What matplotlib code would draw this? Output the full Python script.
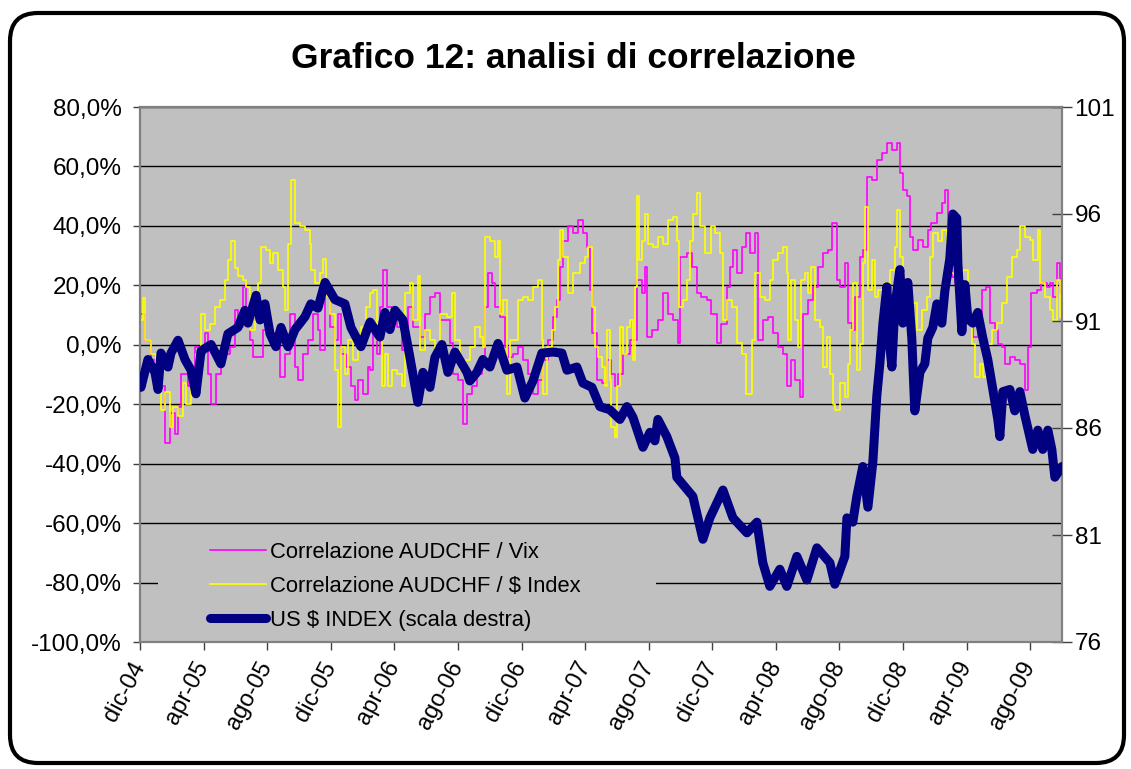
import matplotlib
matplotlib.use("Agg")
import matplotlib.pyplot as plt
from matplotlib.patches import FancyBboxPatch, Rectangle
from matplotlib.transforms import IdentityTransform
from matplotlib.ticker import FixedLocator, FuncFormatter

plt.rcParams['font.family'] = ['Liberation Sans', 'DejaVu Sans']

title = "Grafico 12: analisi di correlazione"
x_labels = ['dic-04', 'apr-05', 'ago-05', 'dic-05', 'apr-06', 'ago-06', 'dic-06', 'apr-07',
            'ago-07', 'dic-07', 'apr-08', 'ago-08', 'dic-08', 'apr-09', 'ago-09']
x_ticks = [0, 4, 8, 12, 16, 20, 24, 28, 32, 36, 40, 44, 48, 52, 56]   # months since 1 Dec 2004
x_end = 58
left_ticks = [-100, -80, -60, -40, -20, 0, 20, 40, 60, 80]
right_ticks = [76, 81, 86, 91, 96, 101]
names = ["Correlazione AUDCHF / Vix", "Correlazione AUDCHF / \\$ Index", "US \\$ INDEX (scala destra)"]

# Correlazione AUDCHF / Vix  (months since Dec 2004, %)
vix_t = [0.0, 0.29, 0.71, 1.13, 1.55, 1.87, 2.18, 2.39, 2.6, 3.02, 3.44, 3.75, 4.07, 4.28, 4.49, 4.8,
         5.12, 5.64, 5.95, 6.16, 6.48, 6.69, 6.9, 7.11, 7.42, 7.74, 8.05, 8.47, 8.78, 9.1, 9.41, 9.73,
         9.94, 10.25, 10.57, 10.88, 11.19, 11.3, 11.61, 11.93, 12.24, 12.45, 12.66, 12.98, 13.29, 13.5,
         13.71, 14.03, 14.34, 14.47, 14.68, 14.89, 15.1, 15.31, 15.52, 15.83, 16.15, 16.46, 16.67, 16.88,
         17.2, 17.61, 17.93, 18.24, 18.56, 18.87, 19.19, 19.5, 19.71, 20.03, 20.34, 20.55, 20.86, 21.18,
         21.49, 21.7, 21.91, 22.12, 22.33, 22.65, 22.96, 23.17, 23.49, 23.8, 24.11, 24.43, 24.74, 25.06,
         25.37, 25.69, 26.0, 26.21, 26.42, 26.63, 26.94, 27.26, 27.57, 27.89, 28.1, 28.31, 28.41, 28.73,
         29.04, 29.35, 29.66, 29.87, 30.08, 30.4, 30.82, 31.24, 31.55, 31.76, 31.87, 32.18, 32.6, 32.91,
         33.23, 33.54, 33.86, 33.96, 34.38, 34.7, 35.01, 35.32, 35.64, 35.95, 36.27, 36.58, 36.9, 37.11,
         37.32, 37.53, 37.84, 38.15, 38.36, 38.68, 38.89, 39.2, 39.52, 39.83, 40.15, 40.46, 40.67, 40.98,
         41.19, 41.51, 41.72, 42.03, 42.35, 42.66, 42.98, 43.29, 43.5, 43.82, 44.03, 44.34, 44.55, 44.76,
         44.97, 45.29, 45.5, 45.71, 46.02, 46.34, 46.65, 46.96, 47.28, 47.59, 47.8, 48.01, 48.22, 48.43,
         48.64, 48.96, 49.27, 49.58, 49.79, 50.11, 50.42, 50.63, 50.84, 51.05, 51.26, 51.47, 51.79, 52.1,
         52.41, 52.73, 52.94, 53.25, 53.46, 53.78, 53.99, 54.2, 54.41, 54.72, 55.04, 55.35, 55.66, 55.87,
         56.08, 56.4, 56.71, 57.03, 57.24, 57.45, 57.66, 57.87, 57.97]
vix_v = [10.5, 1.5, -5, -14, -33, -23, -30, -21, -9.7, -14, -0.7, -3, 3.8, -9.7, -20, -9.7,
         -3, -0.7, 11.7, 6, 19.5, 8.3, 1.5, -4, -4, 5, 3.8, -0.7, -10.8, -3, 10.5, -7.4,
         -12, -3, 1.5, 10.5, 5, -1.8, 16, 6, 1.5, 10.5, -3, -7.4, -14, -18.7,
         -12, -16.4, -7.4, -8.6, 6, -3, 12.8, 25.2, 12.8, 10.5, 6, -1.8, 6, 12.8,
         6, 2.7, 10.5, 16, 17.3, 8.3, 8.3, 0.5, -9.7, -12, -26.5, -16.4, -14, -9.7,
         -5, 12.8, 24, 20.7, 12.8, 9.4, -0.7, -4, -3, -0.7, -5, -9.7, -16.4, -12,
         -5, 1.5, 9.4, 15, 26.3, 35, 39.8, 37.5, 42, 37.5, 33, 18.4, 3.8, -12,
         -13, -5, -9.7, -14, -9.7, -3, 1.5, 21.8, 17.3, 26.3, 2.7, 5, 8.3, 17.3,
         10.5, 8.3, 0.5, 29.6, 30.8, 26.3, 17.3, 16, 15, 10.5, 0.5, 7.1, 19.5, 26.3,
         32, 24, 33, 37.5, 30.8, 37.5, 1.5, 8.3, 9.4, 3.8, -0.7, -3, -14, -5,
         -12, -17.5, 10.5, 15, 19.5, 26.3, 30.8, 32, 41, 21.8, 19.5, 27.4, 7.2, 5,
         16.2, 29.6, 31.9, 56.6, 55.5, 62.2, 64.5, 67.9, 65.6, 67.9, 57.8, 52.1, 49.9, 36.4,
         31.9, 35.3, 33, 38.6, 40.9, 44.3, 47.6, 52.1, 35.3, 22.9, 20.7, 24, 19.5, 9.4,
         2.7, 5, 18.4, 19.5, 7.2, 5, 0.4, -0.7, -6.3, -4, -5.2, -6.3, -15.3, -0.7,
         17.3, 18.4, 20.7, 19.5, 20.7, 16.2, 27.4, 17.3, 16.2]

# Correlazione AUDCHF / $ Index
dxy_t = [0.0, 0.19, 0.29, 0.71, 1.03, 1.34, 1.55, 1.87, 2.08, 2.39, 2.7, 2.91, 3.23, 3.54, 3.86, 4.07,
         4.38, 4.7, 5.01, 5.32, 5.53, 5.74, 5.95, 6.16, 6.48, 6.69, 6.9, 7.21, 7.42, 7.63, 7.95, 8.16,
         8.36, 8.68, 8.99, 9.1, 9.31, 9.52, 9.73, 10.04, 10.36, 10.67, 10.78, 10.99, 11.3, 11.51, 11.72,
         11.93, 12.24, 12.45, 12.66, 12.87, 13.08, 13.4, 13.71, 13.92, 14.23, 14.47, 14.68, 14.89, 15.2,
         15.41, 15.62, 15.83, 16.15, 16.46, 16.67, 16.99, 17.2, 17.51, 17.61, 17.93, 18.24, 18.56, 18.87,
         19.29, 19.61, 19.82, 20.13, 20.45, 20.76, 21.07, 21.39, 21.6, 21.7, 22.02, 22.33, 22.54, 22.65,
         22.86, 23.07, 23.28, 23.59, 23.8, 24.11, 24.43, 24.74, 25.06, 25.27, 25.37, 25.58, 25.9, 26.1,
         26.31, 26.42, 26.63, 26.94, 27.26, 27.68, 27.99, 28.2, 28.41, 28.62, 28.83, 29.04, 29.24, 29.35,
         29.56, 29.66, 29.87, 29.98, 30.19, 30.4, 30.61, 30.82, 31.03, 31.13, 31.24, 31.4, 31.55, 31.76,
         31.97, 32.28, 32.6, 32.91, 33.23, 33.54, 33.75, 33.92, 34.17, 34.38, 34.59, 34.8, 35.01, 35.22,
         35.53, 35.74, 35.95, 36.16, 36.48, 36.69, 36.9, 37.21, 37.53, 37.84, 38.15, 38.47, 38.68, 38.99,
         39.31, 39.62, 39.83, 40.15, 40.46, 40.67, 40.78, 40.98, 41.19, 41.4, 41.61, 41.82, 42.03, 42.24,
         42.45, 42.77, 42.98, 43.19, 43.4, 43.61, 43.71, 44.03, 44.34, 44.55, 44.66, 44.87, 45.08, 45.29,
         45.5, 45.6, 45.81, 46.02, 46.23, 46.44, 46.65, 46.86, 47.17, 47.49, 47.59, 47.8, 48.01, 48.33,
         48.43, 48.64, 48.85, 49.17, 49.48, 49.69, 49.9, 50.21, 50.42, 50.74, 50.95, 51.26, 51.58, 51.79,
         52.1, 52.31, 52.52, 52.83, 53.04, 53.25, 53.57, 53.88, 54.2, 54.51, 54.83, 55.14, 55.35, 55.66,
         55.98, 56.19, 56.5, 56.61, 56.92, 57.24, 57.45, 57.66, 57.87, 58.0]
dxy_v = [8.3, 15.6, 1.5, -3, -9.7, -22, -16, -27.7, -21, -24, -13, -20, -9.7, -3, 10.5, 5,
         7, 12.8, 15, 21.8, 28.5, 35, 26, 23, 21.8, 19.5, 5, 8, 20.7, 33, 32, 27.4,
         30.8, 25, 19.5, 11.7, 34, 55.5, 41, 39.8, 38.6, 34, 25, 20.7, 24, 29, 16,
         10.5, -8.6, -27.7, -0.7, -9.7, 1.5, -5, -0.7, 6, 12.8, 17.3, 18.4, 1.5, -14,
         -3, -14, -8.6, -9.7, -14, 17.3, 20.7, 8.3, 23, -1.8, 5, 1.5, -3, 10.5,
         9.4, 17.3, 1.5, -8.6, -5, -0.7, 6, 2.7, -0.7, 36.4, 35, 29.6, 35, 10.5,
         15, -16.4, 1.5, 1.5, 15, 16, 15, 19.5, 21.8, 1.5, -16.4, -0.7, 5, 12.8,
         28.5, 38.6, 29.6, 17.3, 24, 27.4, 29.6, 33, 12.8, -0.7, -4, -7.4, -14, 5,
         -12, -27.7, -31, -14, 6, -3, 6, 8.3, -5, 19.5, 49.9, 28.5, 35, 44,
         34, 33, 36.4, 34, 42, 43, 35, 12.8, 15, 21.8, 35, 44, 51, 39.8,
         30.8, 30.8, 39.8, 37.5, 30.8, 8.3, 15, 12.8, 0.5, -3, -16.4, 1.5, 24, 16,
         15, 21.8, 28.5, 30.8, 33, 24, 1.5, 21.8, 8.3, -0.7, 21.8, 24, 17.3, 26.3,
         8.3, 6, -7.4, 2.7, -9.7, -20, -22, -13, -17.6, -6.3, 5, 20.7, -8.6, 0.4,
         27.4, 46.5, 18.4, 28.5, 16.2, 18.4, 15, 20.7, 25.2, 33, 45.4, 29.6, 18.4, 0.4,
         5, 14, 5, 11.7, 16.2, 29.6, 37.5, 35, 38.6, 31.9, 24, 25.2, 21.8, 25.2,
         9.4, 0.4, -10.8, -6.3, -10.8, 0.4, 5, 7.2, 14, 22.9, 29.6, 31.9, 39.8, 36.4,
         35.3, 28.5, 38.6, 20.7, 16.2, 11.7, 8.3, 21.8, 9.4, 12]

# US $ INDEX (right scale)
usd_t = [0.0, 0.06, 0.5, 0.94, 1.13, 1.32, 1.76, 1.95, 2.39, 2.83, 3.21, 3.52, 3.84, 4.47, 5.09, 5.53,
         6.16, 6.6, 6.79, 7.3, 7.55, 7.86, 8.18, 8.55, 8.87, 9.31, 9.75, 10.38, 10.75, 11.19, 11.64,
         12.26, 12.89, 13.27, 13.9, 14.34, 14.47, 15.09, 15.41, 15.72, 16.04, 16.54, 16.98, 17.48, 17.8,
         18.24, 18.55, 18.99, 19.37, 19.81, 20.57, 20.75, 21.19, 21.57, 22.01, 22.52, 23.08, 23.71, 24.21,
         24.72, 25.28, 25.97, 26.54, 26.86, 27.48, 27.86, 28.43, 28.93, 29.56, 30.19, 30.63, 31.01, 31.64,
         32.08, 32.39, 32.58, 33.14, 33.65, 33.77, 34.78, 35.41, 35.85, 36.67, 37.3, 38.18, 38.81, 39.18,
         39.62, 40.25, 40.69, 41.32, 41.95, 42.58, 43.4, 43.71, 44.34, 44.47, 44.84, 45.09, 45.47, 45.79,
         46.1, 46.35, 46.54, 46.73, 46.98, 47.17, 47.3, 47.48, 47.8, 47.99, 48.3, 48.55, 48.74, 49.06,
         49.37, 49.56, 49.87, 50.13, 50.44, 50.63, 50.94, 51.13, 51.38, 51.45, 51.7, 51.89, 52.08, 52.39,
         52.7, 53.02, 53.33, 53.65, 53.96, 54.09, 54.28, 54.72, 55.03, 55.35, 55.66, 55.97, 56.16, 56.48,
         56.79, 57.11, 57.36, 57.55, 58.0]
usd_v = [88.3, 87.9, 89.2, 88.6, 87.8, 89.5, 88.85, 89.5, 90.1, 89.2, 88.7, 87.6, 89.6, 89.9, 89.0, 90.4,
         90.7, 91.5, 90.9, 92.2, 91.05, 91.8, 90.4, 89.8, 90.7, 89.8, 90.6, 91.2, 91.8, 91.6, 92.8,
         92.0, 91.8, 90.7, 89.8, 90.7, 90.95, 90.25, 91.4, 90.6, 91.5, 91.05, 89.3, 87.2, 88.6,
         87.9, 89.3, 89.9, 88.6, 89.55, 88.6, 88.2, 88.6, 89.2, 88.85, 89.95, 88.7, 88.85, 87.4,
         88.2, 89.5, 89.55, 89.5, 88.7, 88.85, 88.1, 87.9, 87.0, 86.85, 86.4, 87.0, 86.5, 85.1,
         85.8, 85.4, 86.4, 85.6, 84.6, 83.7, 82.8, 80.8, 81.8, 83.1, 81.8, 81.1, 81.6, 79.7,
         78.6, 79.4, 78.6, 80.0, 78.9, 80.4, 79.7, 78.7, 80.0, 81.8, 81.6, 82.8, 84.2, 82.3,
         84.4, 87.5, 89.0, 90.85, 92.6, 89.8, 88.85, 91.65, 93.4, 90.9, 92.8, 90.2, 86.8, 88.6,
         89.0, 90.2, 90.7, 91.8, 90.9, 92.4, 93.9, 96.0, 95.8, 93.7, 90.5, 92.7, 91.1, 90.9,
         91.4, 90.2, 89.2, 87.8, 86.4, 85.6, 87.7, 87.8, 86.8, 87.7, 86.6, 85.6, 85.0, 85.9,
         85.0, 85.9, 85.0, 83.7, 84.2]

W, H = 1131, 769
fig = plt.figure(figsize=(W / 100, H / 100), dpi=100)
fig.patch.set_facecolor('white')
border = FancyBboxPatch((10, 6), 1114, 750, boxstyle="round,pad=0,rounding_size=28",
                        transform=IdentityTransform(), fc='white', ec='black', lw=3.0, zorder=-10)
fig.add_artist(border)

ax = fig.add_axes([140 / W, 127 / H, 922 / W, 535 / H])
ax.set_facecolor('#C0C0C0')
ax2 = ax.twinx()

l1, = ax.plot(vix_t, vix_v, color='#FF00FF', lw=1.2, zorder=3, drawstyle='steps-post')
l2, = ax.plot(dxy_t, dxy_v, color='#FFFF00', lw=1.2, zorder=3, drawstyle='steps-post')
l3, = ax2.plot(usd_t, usd_v, color='#000080', lw=6.5, solid_capstyle='round',
               solid_joinstyle='round', zorder=3)

ax.set_xlim(0, x_end)
ax.set_ylim(-100, 80)
ax2.set_ylim(76, 101)

ax.yaxis.set_major_locator(FixedLocator(left_ticks))
ax.yaxis.set_major_formatter(FuncFormatter(lambda v, p: f"{v:.1f}%".replace('.', ',')))
ax2.yaxis.set_major_locator(FixedLocator(right_ticks))
ax2.yaxis.set_major_formatter(FuncFormatter(lambda v, p: f"{v:.0f}"))
ax.set_xticks(x_ticks)
ax.set_xticklabels(x_labels, rotation=62, ha='right', va='center', rotation_mode='anchor')

ax.grid(axis='y', color='black', lw=1.0)
ax.set_axisbelow(True)
for a in (ax, ax2):
    for s in a.spines.values():
        s.set_color('#808080')
        s.set_linewidth(1.5)

fs = 17.5
ax.tick_params(axis='y', direction='out', length=5, width=1, color='#404040', labelsize=fs, pad=8)
ax.tick_params(axis='x', direction='out', length=6, width=1, color='#404040', labelsize=17, pad=9)
ax2.tick_params(axis='y', direction='inout', length=14, width=1, color='#404040', labelsize=fs, pad=2)

# legend background covering gridline
ax.add_patch(Rectangle((0.0195, 0.03), 0.54, 0.17, transform=ax.transAxes,
                       fc='#C0C0C0', ec='none', zorder=2))
leg = ax2.legend([l1, l2, l3], names, loc='lower left', bbox_to_anchor=(0.062, -0.004),
                 frameon=False, fontsize=15.8, handlelength=2.55, handletextpad=0.15,
                 labelspacing=0.6, borderaxespad=0.2)

fig.text(0.5066, 1 - 58 / H, title, ha='center', va='center', fontsize=25.5, fontweight='bold')

fig.savefig('out.png', dpi=100, facecolor='white')
